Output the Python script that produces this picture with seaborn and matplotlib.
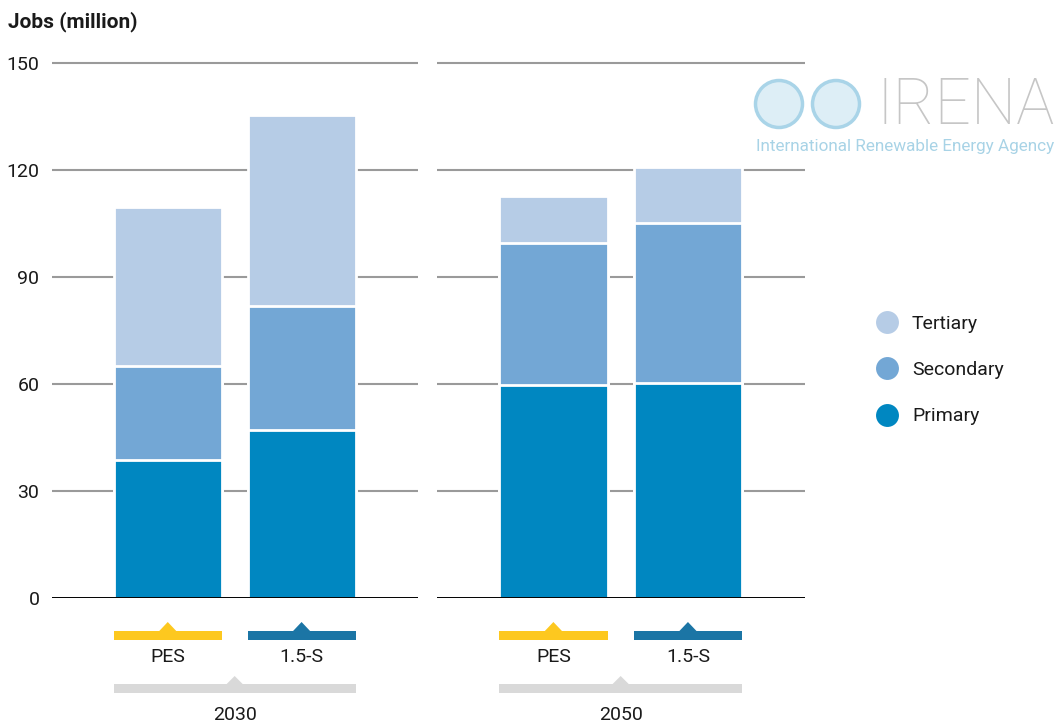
import numpy as np
import pandas as pd
import matplotlib
matplotlib.use("Agg")
import matplotlib.pyplot as plt
from matplotlib.patches import Rectangle, Polygon, Circle
from matplotlib.lines import Line2D
from matplotlib.transforms import blended_transform_factory
import seaborn as sns

# ---- data: jobs in million, ordered 2030 PES, 2030 1.5-S, 2050 PES, 2050 1.5-S
years = ["2030", "2050"]
scenarios = ["PES", "1.5-S"]
primary = [38.8, 47.1, 59.6, 60.4]
secondary = [26.2, 34.7, 39.9, 44.8]
tertiary = [44.6, 53.6, 13.3, 15.5]
segments = ["Tertiary", "Secondary", "Primary"]
yticks = [0, 30, 60, 90, 120, 150]

# ---- styling
segment_colors = {"Tertiary": "#b6cce6", "Secondary": "#73a7d5", "Primary": "#0087c1"}
scenario_colors = ["#fdc81f", "#1b75a5"]
year_bar_color = "#d9d9d9"
text_color = "#1a1a1a"

df = pd.DataFrame({
    "year": np.repeat(years, len(scenarios)),
    "scenario": scenarios * len(years),
    "Primary": primary,
    "Secondary": secondary,
    "Tertiary": tertiary,
})
# cumulative tops for stacking (drawn tallest first, then overdrawn)
df["Primary_top"] = df["Primary"]
df["Secondary_top"] = df["Primary"] + df["Secondary"]
df["Tertiary_top"] = df["Secondary_top"] + df["Tertiary"]

sns.set_theme(style="white")
plt.rcParams["font.family"] = ["Roboto", "DejaVu Sans"]

W, H = 1055, 724
fig = plt.figure(figsize=(W / 100, H / 100), dpi=100)


def fx(px):
    return px / W


def fy(py):
    return 1 - py / H


px_per_unit = 3.567
zero_px = 598
ymax = 152
panel_px = [(52, 418), (437, 805)]
bar_width = 0.806

axes = []
for (left, right), year in zip(panel_px, years):
    ax = fig.add_axes([fx(left), fy(zero_px), (right - left) / W, ymax * px_per_unit / H])
    ax.patch.set_alpha(0)
    axes.append(ax)
    sub = df[df["year"] == year]
    for seg in segments:
        sns.barplot(data=sub, x="scenario", y=f"{seg}_top", order=scenarios,
                    color=segment_colors[seg], saturation=1, width=bar_width,
                    errorbar=None, edgecolor="white", linewidth=2, zorder=2, ax=ax)
    ax.set_xlim(-0.865, 1.87)
    ax.set_ylim(0, ymax)
    for t in yticks[1:]:
        ax.axhline(t, color="#9a9a9a", lw=1.5, zorder=1)
    ax.axhline(0, color="black", lw=1.4, zorder=3)
    for s in ax.spines.values():
        s.set_visible(False)
    ax.set_xlabel("")
    ax.set_ylabel("")
    ax.set_xticks([])
    ax.set_yticks(yticks)
    ax.tick_params(axis="y", length=0, pad=9, labelsize=14, labelcolor=text_color)
    if year != years[0]:
        ax.set_yticklabels([])

    # scenario and year brackets beneath each panel
    trans = blended_transform_factory(ax.transData, fig.transFigure)
    tri_half = 9 / 134
    for i, (scen, col) in enumerate(zip(scenarios, scenario_colors)):
        ax.add_patch(Rectangle((i - bar_width / 2, fy(640)), bar_width, fy(631) - fy(640),
                               facecolor=col, edgecolor="none", transform=trans, clip_on=False))
        ax.add_patch(Polygon([(i - tri_half, fy(631.5)), (i + tri_half, fy(631.5)), (i, fy(622))],
                             closed=True, facecolor=col, edgecolor="none",
                             transform=trans, clip_on=False))
        ax.text(i, fy(657.5), scen, transform=trans, ha="center", va="center",
                fontsize=14, color=text_color)
    mid = (len(scenarios) - 1) / 2
    x_left = -bar_width / 2
    x_right = len(scenarios) - 1 + bar_width / 2
    ax.add_patch(Rectangle((x_left, fy(692.5)), x_right - x_left, fy(684.5) - fy(692.5),
                           facecolor=year_bar_color, edgecolor="none", transform=trans, clip_on=False))
    ax.add_patch(Polygon([(mid - tri_half, fy(685)), (mid + tri_half, fy(685)), (mid, fy(676))],
                         closed=True, facecolor=year_bar_color, edgecolor="none",
                         transform=trans, clip_on=False))
    ax.text(mid, fy(715.5), year, transform=trans, ha="center", va="center",
            fontsize=14, color=text_color)

# axis title
fig.text(fx(8), fy(22), "Jobs (million)", fontsize=15, fontweight="bold",
         color=text_color, ha="left", va="center")

# legend
handles = [Line2D([0], [0], marker="o", linestyle="none", markersize=16.5,
                  markerfacecolor=segment_colors[s], markeredgecolor="none") for s in segments]
fig.legend(handles, segments, loc="center left", bbox_to_anchor=(fx(877), fy(370)),
           frameon=False, fontsize=14, labelspacing=1.46, handlelength=1.0,
           handletextpad=0.8, borderpad=0, borderaxespad=0, labelcolor=text_color)

# agency logo
logo = fig.add_axes([0, 0, 1, 1], zorder=5)
logo.set_xlim(0, W)
logo.set_ylim(H, 0)
logo.axis("off")
for cx in (779, 836):
    logo.add_patch(Circle((cx, 104), 23.5, facecolor="#ddeef6", edgecolor="#a9d4e8", lw=2.5))
logo.text(876, 106, "IRENA", fontsize=46, fontweight="light", color="#c6c6c6",
          ha="left", va="center")
logo.text(756, 147, "International Renewable Energy Agency", fontsize=12.3,
          fontweight="normal", color="#a8d3e6", ha="left", va="center")

fig.savefig("out.png", dpi=100)
